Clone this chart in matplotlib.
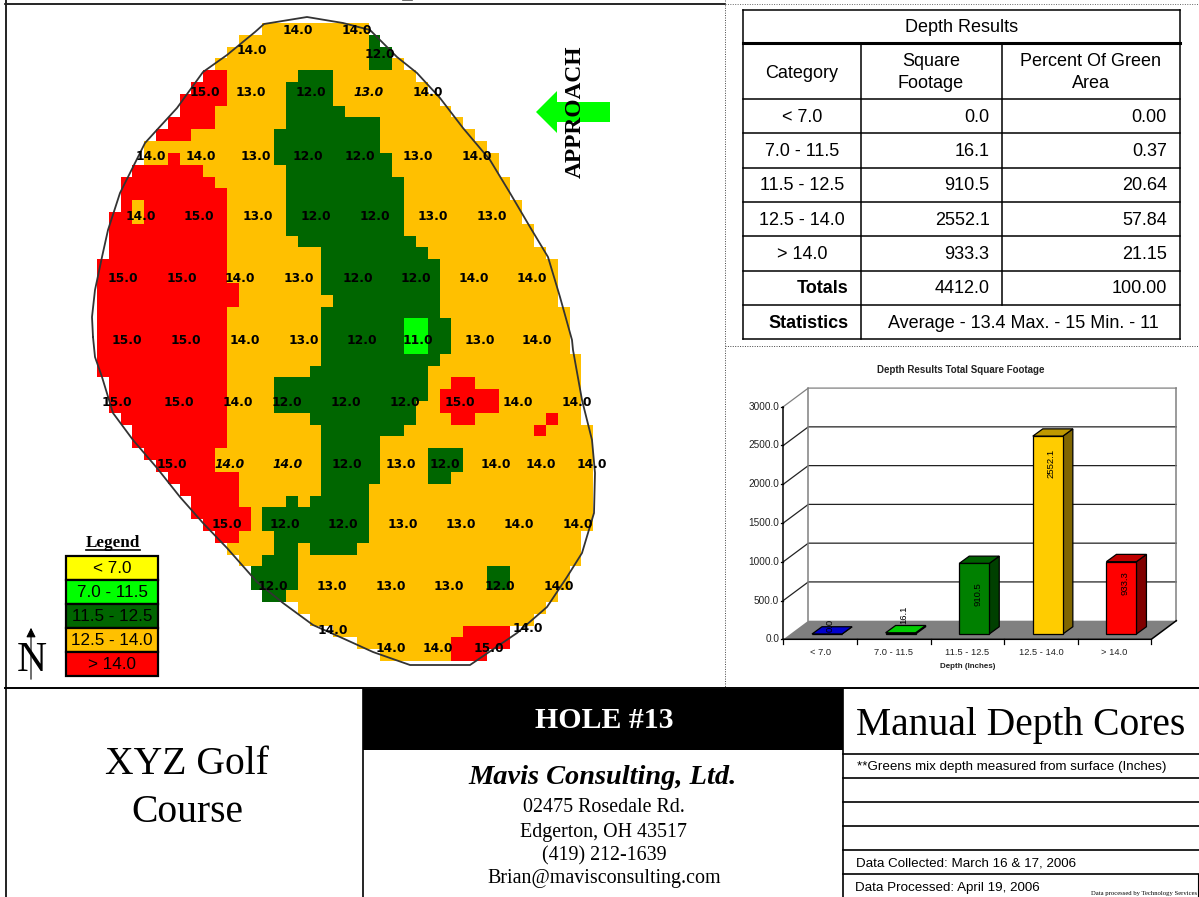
import re
import numpy as np
import matplotlib
matplotlib.use("Agg")
import matplotlib.pyplot as plt
from matplotlib.colors import ListedColormap
from matplotlib.patches import Polygon, Rectangle

plt.rcParams['font.family'] = ['Liberation Sans', 'DejaVu Sans']
SERIF = 'Liberation Serif'

# Map raster, one string per row: run length + class (. none, O, R, G dark, L light)
grid_runs = [
    "14. 9O", "12. 11O 1G", "11. 12O 2G", "10. 13O 2G 1O",
    "9. 2R 6O 3G 7O", "8. 3R 5O 4G 8O", "7. 4R 5O 4G 9O", "7. 3R 6O 5G 9O",
    "6. 4R 6O 8G 7O", "5. 3R 7O 9G 8O", "4. 11O 9G 9O", "4. 2O 1R 8O 10G 9O",
    "3. 6R 7O 9G 9O", "2. 8R 6O 10G 9O", "2. 9R 5O 10G 9O", "2. 1R 1O 7R 5O 10G 10O",
    "1. 2R 1O 7R 5O 10G 10O", "1. 10R 5O 10G 11O", "1. 10R 6O 10G 10O", "1. 10R 8O 9G 10O",
    "11R 8O 10G 10O", "11R 8O 10G 10O", "12R 7O 10G 10O", "12R 8O 9G 10O",
    "11R 8O 10G 11O", "11R 8O 7G 2L 2G 10O", "11R 8O 7G 2L 2G 10O", "11R 8O 7G 2L 2G 10O",
    "11R 8O 10G 12O", "11R 7O 10G 13O", "1. 10R 4O 13G 2O 2R 9O", "1. 10R 4O 13G 1O 5R 7O",
    "1. 10R 4O 12G 2O 5R 7O", "2. 9R 7O 9G 3O 2R 6O 1R 2O", "3. 8R 8O 7G 11O 1R 4O", "3. 8R 8O 5G 18O",
    "4. 6R 9O 5G 4O 3G 11O", "5. 5R 9O 5G 4O 3G 11O", "6. 6R 7O 5G 4O 2G 12O", "7. 5R 7O 4G 19O",
    "8. 4R 4O 1G 1O 5G 19O", "8. 5R 1O 9G 19O", "9. 4R 1O 9G 19O", "10. 2R 3O 8G 18O",
    "11. 4O 2G 1O 4G 19O", "12. 2O 3G 24O", "13. 4G 16O 2G 5O", "13. 4G 16O 2G 5O",
    "14. 2G 23O", "17. 21O", "18. 19O", "20. 11O 4R", "22. 8O 5R", "24. 6O 3R",
]
n_cols = 43

# Green outline
outline_x = [93, 92, 95, 102, 108, 120, 133, 145, 155, 177, 203, 227, 255, 264, 307, 343, 370,
             397, 417, 440, 463, 490, 510, 530, 548, 560, 572, 573, 582, 592, 595, 594, 582,
             567, 547, 517, 470, 410, 373, 340, 313, 283, 257, 227, 203, 180, 157, 133, 113,
             102, 95, 93]
outline_y = [337, 317, 290, 257, 230, 193, 167, 143, 132, 108, 72, 55, 32, 24, 17, 23, 30,
             57, 73, 98, 128, 160, 193, 227, 257, 297, 340, 350, 400, 440, 473, 513, 553,
             577, 607, 633, 665, 665, 652, 637, 625, 603, 582, 548, 523, 497, 468, 440, 413,
             377, 357, 337]

# Depth readings: (y, xs, values)
core_rows = [
    (30, [298, 357], ['14.0', '14.0']),
    (50, [252], ['14.0']),
    (53, [380], ['12.0']),
    (91, [205, 251, 311, 369, 428], ['15.0', '13.0', '12.0', '13.0', '14.0']),
    (155, [151, 201, 256, 308, 360, 418, 477], ['14.0', '14.0', '13.0', '12.0', '12.0', '13.0', '14.0']),
    (215, [141, 199, 258, 316, 375, 433, 492], ['14.0', '15.0', '13.0', '12.0', '12.0', '13.0', '13.0']),
    (277, [123, 182, 240, 299, 358, 416, 474, 532], ['15.0', '15.0', '14.0', '13.0', '12.0', '12.0', '14.0', '14.0']),
    (339, [127, 186, 245, 304, 362, 418, 480, 537], ['15.0', '15.0', '14.0', '13.0', '12.0', '11.0', '13.0', '14.0']),
    (401, [117, 179, 238, 287, 346, 405, 460, 518, 577], ['15.0', '15.0', '14.0', '12.0', '12.0', '12.0', '15.0', '14.0', '14.0']),
    (463, [172, 230, 288, 347, 401, 445, 496, 541, 592], ['15.0', '14.0', '14.0', '12.0', '13.0', '12.0', '14.0', '14.0', '14.0']),
    (524, [227, 285, 343, 403, 461, 519, 578], ['15.0', '12.0', '12.0', '13.0', '13.0', '14.0', '14.0']),
    (585, [273, 332, 391, 449, 500, 559], ['12.0', '13.0', '13.0', '13.0', '12.0', '14.0']),
    (627, [528], ['14.0']),
    (629, [333], ['14.0']),
    (647, [391, 438, 489], ['14.0', '14.0', '15.0']),
]
italic_cores = [(369, 91), (230, 463), (288, 463)]

legend_labels = ['< 7.0', '7.0 - 11.5', '11.5 - 12.5', '12.5 - 14.0', '> 14.0']
legend_colors = ['#FFFF00', '#00FF00', '#006600', '#FFC000', '#FF0000']

table_categories = ['< 7.0', '7.0 - 11.5', '11.5 - 12.5', '12.5 - 14.0', '> 14.0']
square_footage = [0.0, 16.1, 910.5, 2552.1, 933.3]
percent_area = [0.00, 0.37, 20.64, 57.84, 21.15]
total_square_footage = 4412.0
total_percent = 100.00

y_ticks = [0, 500, 1000, 1500, 2000, 2500, 3000]
bar_front = ['#0000CC', '#00CC00', '#008000', '#FFCC00', '#FF0000']
bar_top = ['#0000CC', '#00CC00', '#006000', '#BF9900', '#BF0000']
bar_side = ['#000080', '#008000', '#004000', '#806600', '#800000']
bar_label_y = [184, 313, 584, 2272, 725]

PX = 100.0

fig = plt.figure(figsize=(1199 / PX, 897 / PX), dpi=100)
ax = fig.add_axes([0, 0, 1, 1])

# green map
codes = {'.': -1, 'O': 0, 'R': 1, 'G': 2, 'L': 3}
rows = []
for run in grid_runs:
    row = []
    for count, code in re.findall(r'(\d+)([.ORGL])', run):
        row += [codes[code]] * int(count)
    rows.append(row + [-1] * (n_cols - len(row)))
grid = np.ma.masked_equal(np.array(rows), -1)
cell = 11.8
ax.imshow(grid, cmap=ListedColormap(['#FFC000', '#FF0000', '#006600', '#00FF00']), vmin=0, vmax=3,
          extent=(97, 97 + cell * n_cols, 23.8 + cell * len(rows), 23.8),
          interpolation='nearest', aspect='auto', zorder=1)
ax.set_xlim(0, 1199)
ax.set_ylim(897, 0)
ax.axis('off')

ax.plot(outline_x, outline_y, color='#333333', lw=1.3, zorder=3)
for y, xs, vals in core_rows:
    for x, v in zip(xs, vals):
        style = 'italic' if (x, y) in italic_cores else 'normal'
        ax.text(x, y + 1, v, family='DejaVu Sans', weight='bold', style=style, fontsize=8.8,
                ha='center', va='center', color='black', zorder=4)

# approach arrow
ax.add_patch(Polygon([(610, 102), (557, 102), (557, 91), (536, 112), (557, 133), (557, 122), (610, 122)],
                     facecolor='#00FF00', edgecolor='none', zorder=2))
ax.text(575.5, 112, 'APPROACH', family=SERIF, weight='bold', fontsize=16.8, rotation=90,
        ha='center', va='center', zorder=5)

# legend
ax.text(113, 543, 'Legend', family=SERIF, weight='bold', fontsize=12.3, ha='center', va='center')
ax.plot([86, 140], [550, 550], color='black', lw=1.2)
for i, (lab, col) in enumerate(zip(legend_labels, legend_colors)):
    ax.add_patch(Rectangle((66, 556 + i * 24), 92, 24, facecolor=col, edgecolor='black', lw=1.6, zorder=2))
    ax.text(112, 568.5 + i * 24, lab, fontsize=12.3, ha='center', va='center', zorder=3)

# north arrow
ax.annotate('', xy=(31, 625), xytext=(31, 682),
            arrowprops=dict(arrowstyle='-|>', color='black', lw=0.8, mutation_scale=14))
ax.text(31.5, 661, 'N', family=SERIF, fontsize=30, ha='center', va='center')

# panel frame
ax.plot([5, 725], [4, 4], color='black', lw=1.2)
ax.plot([6, 6], [0, 897], color='#222222', lw=1.4)
ax.plot([5, 1199], [688.5, 688.5], color='black', lw=1.4)
ax.plot([725, 725], [0, 688], color='#444444', lw=0.7, ls=(0, (1, 1.5)))
ax.plot([725, 1199], [346, 346], color='#444444', lw=0.7, ls=(0, (1, 1.5)))
ax.plot([725, 1199], [4, 4], color='#666666', lw=0.7, ls=(0, (1, 1.5)))

# results table
tx0, tx1, tx2, tx3 = 743.3, 860.5, 1001.5, 1180
ty = [10, 43.5, 99.5, 133.5, 167.7, 202, 236.5, 270.7, 305, 339.5]
for y in ty:
    ax.plot([tx0, tx3], [y, y], color='black', lw=2.2 if y == ty[1] else 1.1, zorder=2)
ax.plot([tx0, tx0], [ty[0], ty[-1]], color='black', lw=1.1)
ax.plot([tx3, tx3], [ty[0], ty[-1]], color='black', lw=1.1)
ax.plot([tx1, tx1], [ty[1], ty[-1]], color='black', lw=1.1)
ax.plot([tx2, tx2], [ty[1], ty[-2]], color='black', lw=1.1)
TS = 13
ax.text((tx0 + tx3) / 2, 27, 'Depth Results', fontsize=TS, ha='center', va='center')
ax.text((tx0 + tx1) / 2, 73, 'Category', fontsize=TS, ha='center', va='center')
ax.text((tx1 + tx2) / 2, 62, 'Square', fontsize=TS, ha='center', va='center')
ax.text((tx1 + tx2) / 2, 84, 'Footage', fontsize=TS, ha='center', va='center')
ax.text((tx2 + tx3) / 2, 62, 'Percent Of Green', fontsize=TS, ha='center', va='center')
ax.text((tx2 + tx3) / 2, 84, 'Area', fontsize=TS, ha='center', va='center')
for i, cat in enumerate(table_categories):
    yc = (ty[2 + i] + ty[3 + i]) / 2 + 1
    ax.text((tx0 + tx1) / 2, yc, cat, fontsize=TS, ha='center', va='center')
    ax.text(tx2 - 12, yc, f'{square_footage[i]:.1f}', fontsize=TS, ha='right', va='center')
    ax.text(tx3 - 13, yc, f'{percent_area[i]:.2f}', fontsize=TS, ha='right', va='center')
yc = (ty[7] + ty[8]) / 2 + 1
ax.text(tx1 - 12, yc, 'Totals', fontsize=TS, weight='bold', ha='right', va='center')
ax.text(tx2 - 12, yc, f'{total_square_footage:.1f}', fontsize=TS, ha='right', va='center')
ax.text(tx3 - 13, yc, f'{total_percent:.2f}', fontsize=TS, ha='right', va='center')
yc = (ty[8] + ty[9]) / 2 + 1
ax.text(tx1 - 12, yc, 'Statistics', fontsize=TS, weight='bold', ha='right', va='center')
ax.text((tx1 + tx3) / 2 + 3, yc, 'Average - 13.4 Max. - 15 Min. - 11', fontsize=TS, ha='center', va='center')

# title block
ax.add_patch(Rectangle((363, 689), 480, 61, facecolor='black', edgecolor='none'))
ax.plot([363, 363], [689, 897], color='black', lw=1.2)
ax.plot([843, 843], [689, 897], color='black', lw=1.2)
ax.text(604, 720, 'HOLE #13', family=SERIF, weight='bold', color='white', fontsize=21.5, ha='center', va='center')
ax.text(187, 765, 'XYZ Golf', family=SERIF, fontsize=28.5, ha='center', va='center')
ax.text(187, 813, 'Course', family=SERIF, fontsize=28.5, ha='center', va='center')
ax.text(603, 778, 'Mavis Consulting, Ltd.', family=SERIF, weight='bold', style='italic', fontsize=20.4,
        ha='center', va='center')
for y, line in zip([808, 832, 856, 879],
                   ['02475 Rosedale Rd.', 'Edgerton, OH 43517', '(419) 212-1639', 'Brian@mavisconsulting.com']):
    ax.text(604, y, line, family=SERIF, fontsize=14.4, ha='center', va='center')
ax.text(1021, 725, 'Manual Depth Cores', family=SERIF, fontsize=28.5, ha='center', va='center')
for y in [754, 778, 802.5, 826, 850, 874]:
    ax.plot([843, 1199], [y, y], color='black', lw=1.2)
ax.plot([1198, 1198], [874, 897], color='black', lw=0.8)
ax.text(857, 767, '**Greens mix depth measured from surface (Inches)', fontsize=9.6, va='center')
ax.text(856, 864, 'Data Collected: March 16 & 17, 2006', fontsize=9.6, va='center')
ax.text(855, 888, 'Data Processed: April 19, 2006', fontsize=9.6, va='center')
ax.text(1197, 893, 'Data processed by Technology Services', family=SERIF, fontsize=4.8, ha='right', va='center')

# 3D bar chart, front plane mapped to 0..5 / 0..3000
x_left, x_right, y_zero, y_top = 783.3, 1151.3, 639.3, 406.7
bx = fig.add_axes([x_left / 1199, 1 - y_zero / 897, (x_right - x_left) / 1199, (y_zero - y_top) / 897])
bx.set_xlim(0, 5)
bx.set_ylim(0, 3000)
bx.axis('off')
dx, dy = 0.34, 240
bx.add_patch(Polygon([(0, 0), (5, 0), (5 + dx, dy), (dx, dy)], facecolor='#808080', edgecolor='none', clip_on=False))
for v in y_ticks:
    grid_col = '#808080' if v in (0, 3000) else '#222222'
    if v > 0:
        bx.plot([0, dx, 5 + dx], [v, v + dy, v + dy], color=grid_col, lw=0.9, clip_on=False)
    bx.plot([-0.03, 0], [v, v], color='black', lw=0.9, clip_on=False)
    bx.text(-0.055, v, f'{v:.1f}', fontsize=7.2, ha='right', va='center', color='#222222')
bx.plot([dx, dx], [dy, 3000 + dy], color='#808080', lw=1.1, clip_on=False)
bx.plot([5 + dx, 5 + dx], [dy, 3000 + dy], color='#808080', lw=1.1, clip_on=False)
bx.plot([0, 0], [0, 3000], color='black', lw=1.1, clip_on=False)
bx.plot([0, 5, 5 + dx], [0, 0, dy], color='black', lw=1.1, clip_on=False)
for i in range(6):
    bx.plot([i, i], [0, -60], color='black', lw=0.9, clip_on=False)
for i, cat in enumerate(table_categories):
    bx.text(i + 0.5, -165, cat, fontsize=6.7, ha='center', va='center', color='#222222')
bx.text(2.5, -345, 'Depth (Inches)', fontsize=5.8, weight='bold', ha='center', va='center', color='#222222')
bx.text(2.414, 3473, 'Depth Results Total Square Footage', fontsize=7, weight='bold', ha='center', va='center', color='#222222')

bw, base, ddx, ddy = 0.408, 68, 0.136, 94
for i, v in enumerate(square_footage):
    l, r, t = i + 0.39, i + 0.39 + bw, base + v
    bx.add_patch(Polygon([(r, base), (r + ddx, base + ddy), (r + ddx, t + ddy), (r, t)],
                         facecolor=bar_side[i], edgecolor='black', lw=0.9, clip_on=False, zorder=3))
    bx.add_patch(Polygon([(l, t), (r, t), (r + ddx, t + ddy), (l + ddx, t + ddy)],
                         facecolor=bar_top[i], edgecolor='black', lw=0.9, clip_on=False, zorder=3))
    bx.add_patch(Rectangle((l, base), bw, v, facecolor=bar_front[i], edgecolor='black', lw=0.9, clip_on=False, zorder=3))
    bx.text(i + 0.64, bar_label_y[i], f'{v:.1f}', rotation=90, fontsize=6.8, ha='center', va='center', zorder=4)

# bit of a cut off title at the top edge
ax.plot([403, 412], [0.5, 0.5], color='#555555', lw=1.2)

fig.savefig('out.png', dpi=100)
